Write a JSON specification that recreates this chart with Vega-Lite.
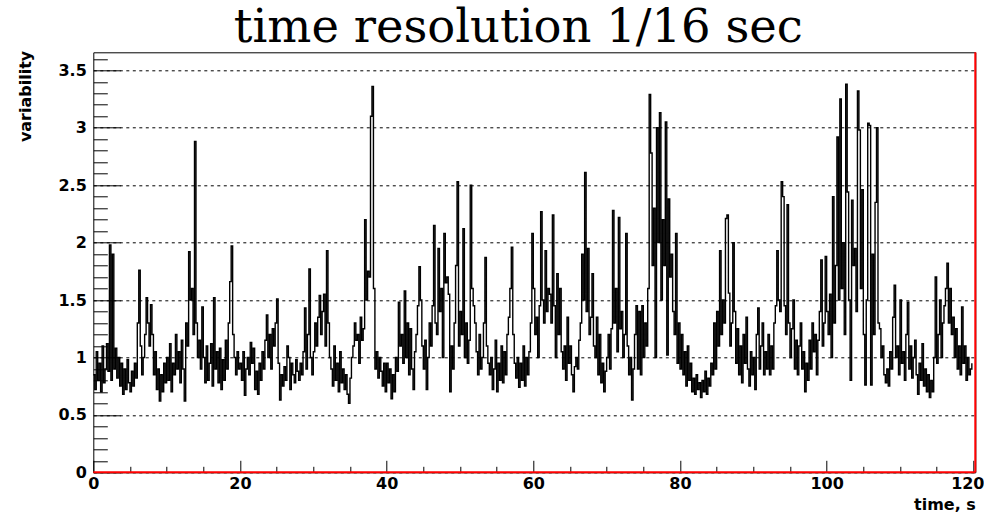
{
"$schema": "https://vega.github.io/schema/vega-lite/v6.json",
"width": 882, "height": 420,
"autosize": {"type": "none"},
"padding": {"left": 93.3, "top": 52.3, "right": 8.7, "bottom": 42.5},
"background": "white",
"title": {"text": "time resolution 1/16 sec", "font": "DejaVu Serif", "fontSize": 46.5, "fontWeight": "normal", "color": "black", "anchor": "middle", "dx": -16, "dy": 47, "offset": 9, "baseline": "alphabetic"},
"config": {"view": {"stroke": "black", "strokeWidth": 1},
  "axis": {"labelFont": "DejaVu Sans", "labelFontWeight": "bold", "labelFontSize": 16, "labelColor": "black", "titleFont": "DejaVu Sans", "titleFontWeight": "bold", "titleFontSize": 16, "titleColor": "black", "tickColor": "black", "domainColor": "black", "tickWidth": 1}},
"resolve": {"axis": {"x": "independent", "y": "independent"}},
"layer": [
{"data": {"values": [
{"t":0,"v":0.85},{"t":0.2,"v":0.72},{"t":0.4,"v":1.05},{"t":0.6,"v":0.8},{"t":0.8,"v":0.95},{"t":1,"v":0.7},{"t":1.2,"v":1.1},{"t":1.4,"v":0.78},{"t":1.6,"v":0.9},{"t":1.8,"v":1.12},
{"t":2,"v":0.88},{"t":2.2,"v":1.98},{"t":2.4,"v":0.8},{"t":2.6,"v":1.9},{"t":2.8,"v":0.9},{"t":3,"v":1.08},{"t":3.2,"v":0.82},{"t":3.4,"v":1.0},{"t":3.6,"v":0.75},{"t":3.8,"v":0.95},
{"t":4,"v":0.68},{"t":4.2,"v":0.9},{"t":4.4,"v":0.72},{"t":4.6,"v":0.98},{"t":4.8,"v":0.78},{"t":5,"v":0.7},{"t":5.2,"v":0.88},{"t":5.4,"v":0.75},{"t":5.6,"v":0.95},{"t":5.8,"v":0.82},
{"t":6,"v":1.3},{"t":6.2,"v":1.76},{"t":6.4,"v":1.1},{"t":6.6,"v":0.85},{"t":6.8,"v":1.0},{"t":7,"v":1.2},{"t":7.2,"v":1.52},{"t":7.4,"v":1.3},{"t":7.6,"v":1.1},{"t":7.8,"v":1.46},
{"t":8,"v":1.2},{"t":8.2,"v":0.85},{"t":8.4,"v":1.05},{"t":8.6,"v":0.72},{"t":8.8,"v":0.9},{"t":9,"v":0.62},{"t":9.2,"v":0.85},{"t":9.4,"v":0.7},{"t":9.6,"v":0.95},{"t":9.8,"v":0.78},
{"t":10,"v":1.0},{"t":10.2,"v":0.8},{"t":10.4,"v":1.12},{"t":10.6,"v":0.7},{"t":10.8,"v":0.95},{"t":11,"v":0.85},{"t":11.2,"v":1.2},{"t":11.4,"v":0.9},{"t":11.6,"v":1.05},{"t":11.8,"v":0.78},
{"t":12,"v":1.15},{"t":12.2,"v":0.9},{"t":12.4,"v":0.62},{"t":12.6,"v":1.3},{"t":12.8,"v":1.1},{"t":13,"v":1.92},{"t":13.2,"v":1.5},{"t":13.4,"v":1.6},{"t":13.6,"v":1.2},{"t":13.8,"v":2.88},
{"t":14,"v":1.3},{"t":14.2,"v":1.0},{"t":14.4,"v":1.15},{"t":14.6,"v":0.9},{"t":14.8,"v":1.44},{"t":15,"v":1.0},{"t":15.2,"v":0.78},{"t":15.4,"v":1.1},{"t":15.6,"v":0.8},{"t":15.8,"v":0.95},
{"t":16,"v":1.12},{"t":16.2,"v":0.75},{"t":16.4,"v":1.52},{"t":16.6,"v":0.9},{"t":16.8,"v":1.05},{"t":17,"v":0.78},{"t":17.2,"v":1.08},{"t":17.4,"v":0.72},{"t":17.6,"v":0.98},{"t":17.8,"v":0.8},
{"t":18,"v":1.15},{"t":18.2,"v":0.9},{"t":18.4,"v":1.3},{"t":18.6,"v":1.66},{"t":18.8,"v":1.97},{"t":19,"v":1.2},{"t":19.2,"v":1.0},{"t":19.4,"v":0.85},{"t":19.6,"v":1.05},{"t":19.8,"v":0.9},
{"t":20,"v":0.95},{"t":20.2,"v":0.8},{"t":20.4,"v":1.05},{"t":20.6,"v":0.67},{"t":20.8,"v":0.9},{"t":21,"v":1.0},{"t":21.2,"v":0.85},{"t":21.4,"v":1.13},{"t":21.6,"v":0.95},{"t":21.8,"v":1.08},
{"t":22,"v":0.72},{"t":22.2,"v":0.88},{"t":22.4,"v":0.68},{"t":22.6,"v":0.95},{"t":22.8,"v":0.8},{"t":23,"v":1.05},{"t":23.2,"v":0.9},{"t":23.4,"v":1.15},{"t":23.6,"v":1.37},{"t":23.8,"v":1.0},
{"t":24,"v":1.2},{"t":24.2,"v":0.9},{"t":24.4,"v":1.25},{"t":24.6,"v":1.1},{"t":24.8,"v":1.3},{"t":25,"v":1.51},{"t":25.2,"v":0.95},{"t":25.4,"v":0.63},{"t":25.6,"v":0.85},{"t":25.8,"v":0.75},
{"t":26,"v":0.92},{"t":26.2,"v":0.8},{"t":26.4,"v":1.1},{"t":26.6,"v":1.0},{"t":26.8,"v":0.72},{"t":27,"v":0.95},{"t":27.2,"v":0.85},{"t":27.4,"v":0.78},{"t":27.6,"v":0.98},{"t":27.8,"v":0.88},
{"t":28,"v":0.8},{"t":28.2,"v":0.95},{"t":28.4,"v":0.85},{"t":28.6,"v":1.05},{"t":28.8,"v":1.43},{"t":29,"v":0.9},{"t":29.2,"v":1.2},{"t":29.4,"v":1.77},{"t":29.6,"v":1.0},{"t":29.8,"v":0.85},
{"t":30,"v":1.05},{"t":30.2,"v":1.3},{"t":30.4,"v":1.1},{"t":30.6,"v":1.35},{"t":30.8,"v":1.54},{"t":31,"v":1.2},{"t":31.2,"v":1.4},{"t":31.4,"v":1.55},{"t":31.6,"v":1.1},{"t":31.8,"v":1.93},
{"t":32,"v":1.3},{"t":32.2,"v":1.0},{"t":32.4,"v":0.9},{"t":32.6,"v":0.75},{"t":32.8,"v":1.1},{"t":33,"v":0.8},{"t":33.2,"v":0.95},{"t":33.4,"v":0.7},{"t":33.6,"v":1.05},{"t":33.8,"v":0.78},
{"t":34,"v":0.9},{"t":34.2,"v":0.72},{"t":34.4,"v":0.85},{"t":34.6,"v":0.68},{"t":34.8,"v":0.6},{"t":35,"v":0.82},{"t":35.2,"v":1.0},{"t":35.4,"v":1.1},{"t":35.6,"v":1.3},{"t":35.8,"v":1.15},
{"t":36,"v":1.2},{"t":36.2,"v":0.95},{"t":36.4,"v":1.35},{"t":36.6,"v":1.15},{"t":36.8,"v":1.25},{"t":37,"v":2.2},{"t":37.2,"v":1.5},{"t":37.4,"v":1.75},{"t":37.6,"v":1.7},{"t":37.8,"v":3.1},
{"t":38,"v":3.36},{"t":38.2,"v":1.6},{"t":38.4,"v":0.9},{"t":38.6,"v":1.05},{"t":38.8,"v":0.82},{"t":39,"v":1.0},{"t":39.2,"v":0.88},{"t":39.4,"v":0.75},{"t":39.6,"v":0.95},{"t":39.8,"v":0.7},
{"t":40,"v":0.95},{"t":40.2,"v":0.78},{"t":40.4,"v":0.9},{"t":40.6,"v":0.64},{"t":40.8,"v":0.85},{"t":41,"v":0.7},{"t":41.2,"v":1.0},{"t":41.4,"v":0.88},{"t":41.6,"v":1.48},{"t":41.8,"v":1.1},
{"t":42,"v":1.2},{"t":42.2,"v":0.95},{"t":42.4,"v":1.58},{"t":42.6,"v":1.0},{"t":42.8,"v":1.3},{"t":43,"v":0.85},{"t":43.2,"v":1.25},{"t":43.4,"v":0.9},{"t":43.6,"v":0.72},{"t":43.8,"v":1.05},
{"t":44,"v":1.2},{"t":44.2,"v":1.45},{"t":44.4,"v":1.79},{"t":44.6,"v":1.5},{"t":44.8,"v":1.1},{"t":45,"v":0.9},{"t":45.2,"v":1.15},{"t":45.4,"v":0.72},{"t":45.6,"v":1.0},{"t":45.8,"v":1.3},
{"t":46,"v":1.1},{"t":46.2,"v":1.45},{"t":46.4,"v":2.15},{"t":46.6,"v":1.3},{"t":46.8,"v":1.2},{"t":47,"v":1.95},{"t":47.2,"v":1.4},{"t":47.4,"v":1.6},{"t":47.6,"v":1.0},{"t":47.8,"v":2.08},
{"t":48,"v":1.65},{"t":48.2,"v":1.7},{"t":48.4,"v":1.55},{"t":48.6,"v":0.7},{"t":48.8,"v":1.1},{"t":49,"v":0.9},{"t":49.2,"v":1.3},{"t":49.4,"v":1.8},{"t":49.6,"v":2.53},{"t":49.8,"v":1.1},
{"t":50,"v":1.4},{"t":50.2,"v":1.2},{"t":50.4,"v":2.12},{"t":50.6,"v":1.0},{"t":50.8,"v":1.3},{"t":51,"v":0.95},{"t":51.2,"v":1.15},{"t":51.4,"v":2.5},{"t":51.6,"v":1.6},{"t":51.8,"v":1.45},
{"t":52,"v":1.3},{"t":52.2,"v":1.05},{"t":52.4,"v":0.85},{"t":52.6,"v":1.2},{"t":52.8,"v":0.9},{"t":53,"v":1.0},{"t":53.2,"v":1.3},{"t":53.4,"v":1.87},{"t":53.6,"v":1.1},{"t":53.8,"v":0.95},
{"t":54,"v":0.85},{"t":54.2,"v":1.0},{"t":54.4,"v":0.72},{"t":54.6,"v":0.9},{"t":54.8,"v":1.15},{"t":55,"v":0.7},{"t":55.2,"v":0.95},{"t":55.4,"v":0.8},{"t":55.6,"v":1.1},{"t":55.8,"v":0.78},
{"t":56,"v":1.05},{"t":56.2,"v":0.85},{"t":56.4,"v":1.2},{"t":56.6,"v":1.35},{"t":56.8,"v":1.6},{"t":57,"v":1.96},{"t":57.2,"v":1.2},{"t":57.4,"v":0.95},{"t":57.6,"v":0.82},{"t":57.8,"v":1.0},
{"t":58,"v":0.74},{"t":58.2,"v":0.95},{"t":58.4,"v":0.8},{"t":58.6,"v":1.1},{"t":58.8,"v":0.75},{"t":59,"v":1.0},{"t":59.2,"v":0.85},{"t":59.4,"v":1.05},{"t":59.6,"v":1.3},{"t":59.8,"v":2.08},
{"t":60,"v":1.6},{"t":60.2,"v":1.2},{"t":60.4,"v":1.35},{"t":60.6,"v":1.0},{"t":60.8,"v":1.45},{"t":61,"v":2.27},{"t":61.2,"v":1.5},{"t":61.4,"v":1.3},{"t":61.6,"v":1.93},{"t":61.8,"v":1.4},
{"t":62,"v":1.6},{"t":62.2,"v":1.55},{"t":62.4,"v":1.3},{"t":62.6,"v":2.24},{"t":62.8,"v":1.45},{"t":63,"v":1.0},{"t":63.2,"v":1.73},{"t":63.4,"v":1.2},{"t":63.6,"v":1.6},{"t":63.8,"v":1.05},
{"t":64,"v":0.9},{"t":64.2,"v":1.1},{"t":64.4,"v":0.8},{"t":64.6,"v":1.35},{"t":64.8,"v":0.95},{"t":65,"v":1.1},{"t":65.2,"v":0.85},{"t":65.4,"v":0.7},{"t":65.6,"v":0.92},{"t":65.8,"v":1.0},
{"t":66,"v":0.9},{"t":66.2,"v":1.15},{"t":66.4,"v":1.3},{"t":66.6,"v":1.9},{"t":66.8,"v":1.5},{"t":67,"v":2.61},{"t":67.2,"v":1.4},{"t":67.4,"v":1.95},{"t":67.6,"v":1.2},{"t":67.8,"v":1.35},
{"t":68,"v":1.73},{"t":68.2,"v":1.1},{"t":68.4,"v":1.0},{"t":68.6,"v":1.35},{"t":68.8,"v":0.85},{"t":69,"v":1.2},{"t":69.2,"v":0.78},{"t":69.4,"v":0.95},{"t":69.6,"v":0.7},{"t":69.8,"v":0.88},
{"t":70,"v":1.0},{"t":70.2,"v":1.2},{"t":70.4,"v":0.9},{"t":70.6,"v":1.25},{"t":70.8,"v":2.28},{"t":71,"v":1.3},{"t":71.2,"v":1.6},{"t":71.4,"v":1.05},{"t":71.6,"v":2.22},{"t":71.8,"v":1.25},
{"t":72,"v":1.4},{"t":72.2,"v":1.0},{"t":72.4,"v":1.2},{"t":72.6,"v":2.08},{"t":72.8,"v":1.1},{"t":73,"v":0.85},{"t":73.2,"v":1.0},{"t":73.4,"v":0.63},{"t":73.6,"v":0.9},{"t":73.8,"v":1.2},
{"t":74,"v":1.45},{"t":74.2,"v":0.9},{"t":74.4,"v":1.4},{"t":74.6,"v":0.85},{"t":74.8,"v":1.45},{"t":75,"v":1.0},{"t":75.2,"v":1.3},{"t":75.4,"v":1.1},{"t":75.6,"v":1.6},{"t":75.8,"v":3.29},
{"t":76,"v":2.78},{"t":76.2,"v":1.8},{"t":76.4,"v":2.3},{"t":76.6,"v":1.0},{"t":76.8,"v":3.0},{"t":77,"v":2.0},{"t":77.2,"v":3.13},{"t":77.4,"v":1.5},{"t":77.6,"v":2.2},{"t":77.8,"v":1.8},
{"t":78,"v":3.05},{"t":78.2,"v":1.02},{"t":78.4,"v":2.38},{"t":78.6,"v":1.7},{"t":78.8,"v":1.9},{"t":79,"v":1.4},{"t":79.2,"v":1.2},{"t":79.4,"v":2.08},{"t":79.6,"v":0.95},{"t":79.8,"v":1.3},
{"t":80,"v":0.9},{"t":80.2,"v":1.2},{"t":80.4,"v":0.85},{"t":80.6,"v":1.05},{"t":80.8,"v":0.75},{"t":81,"v":1.1},{"t":81.2,"v":0.8},{"t":81.4,"v":0.95},{"t":81.6,"v":0.7},{"t":81.8,"v":0.82},
{"t":82,"v":0.68},{"t":82.2,"v":0.85},{"t":82.4,"v":0.72},{"t":82.6,"v":0.78},{"t":82.8,"v":0.65},{"t":83,"v":0.8},{"t":83.2,"v":0.7},{"t":83.4,"v":0.88},{"t":83.6,"v":0.68},{"t":83.8,"v":0.82},
{"t":84,"v":0.75},{"t":84.2,"v":0.95},{"t":84.4,"v":0.85},{"t":84.6,"v":1.3},{"t":84.8,"v":0.9},{"t":85,"v":1.4},{"t":85.2,"v":1.1},{"t":85.4,"v":1.93},{"t":85.6,"v":1.2},{"t":85.8,"v":1.5},
{"t":86,"v":1.3},{"t":86.2,"v":2.21},{"t":86.4,"v":2.24},{"t":86.6,"v":1.56},{"t":86.8,"v":1.1},{"t":87,"v":1.3},{"t":87.2,"v":2.0},{"t":87.4,"v":1.4},{"t":87.6,"v":0.95},{"t":87.8,"v":1.25},
{"t":88,"v":0.85},{"t":88.2,"v":1.1},{"t":88.4,"v":0.78},{"t":88.6,"v":1.2},{"t":88.8,"v":0.95},{"t":89,"v":1.35},{"t":89.2,"v":0.9},{"t":89.4,"v":0.75},{"t":89.6,"v":1.05},{"t":89.8,"v":0.85},
{"t":90,"v":1.0},{"t":90.2,"v":0.72},{"t":90.4,"v":1.2},{"t":90.6,"v":1.43},{"t":90.8,"v":0.9},{"t":91,"v":1.1},{"t":91.2,"v":1.3},{"t":91.4,"v":0.85},{"t":91.6,"v":1.05},{"t":91.8,"v":0.9},
{"t":92,"v":1.2},{"t":92.2,"v":0.85},{"t":92.4,"v":1.1},{"t":92.6,"v":0.9},{"t":92.8,"v":1.3},{"t":93,"v":1.45},{"t":93.2,"v":1.93},{"t":93.4,"v":1.5},{"t":93.6,"v":1.4},{"t":93.8,"v":2.53},
{"t":94,"v":2.4},{"t":94.2,"v":1.45},{"t":94.4,"v":1.2},{"t":94.6,"v":2.33},{"t":94.8,"v":1.3},{"t":95,"v":1.0},{"t":95.2,"v":1.25},{"t":95.4,"v":1.5},{"t":95.6,"v":0.9},{"t":95.8,"v":1.15},
{"t":96,"v":0.85},{"t":96.2,"v":1.1},{"t":96.4,"v":1.3},{"t":96.6,"v":0.9},{"t":96.8,"v":1.05},{"t":97,"v":0.7},{"t":97.2,"v":0.95},{"t":97.4,"v":0.8},{"t":97.6,"v":1.15},{"t":97.8,"v":0.9},
{"t":98,"v":1.3},{"t":98.2,"v":1.05},{"t":98.4,"v":1.2},{"t":98.6,"v":0.85},{"t":98.8,"v":1.15},{"t":99,"v":1.4},{"t":99.2,"v":1.85},{"t":99.4,"v":1.1},{"t":99.6,"v":1.3},{"t":99.8,"v":1.88},
{"t":100,"v":1.4},{"t":100.2,"v":1.2},{"t":100.4,"v":1.55},{"t":100.6,"v":1.0},{"t":100.8,"v":2.4},{"t":101,"v":1.3},{"t":101.2,"v":1.8},{"t":101.4,"v":2.92},{"t":101.6,"v":1.5},{"t":101.8,"v":3.25},
{"t":102,"v":1.6},{"t":102.2,"v":2.0},{"t":102.4,"v":1.2},{"t":102.6,"v":3.38},{"t":102.8,"v":2.44},{"t":103,"v":1.5},{"t":103.2,"v":0.8},{"t":103.4,"v":2.37},{"t":103.6,"v":1.8},{"t":103.8,"v":1.95},
{"t":104,"v":1.4},{"t":104.2,"v":3.32},{"t":104.4,"v":2.98},{"t":104.6,"v":1.6},{"t":104.8,"v":2.46},{"t":105,"v":1.2},{"t":105.2,"v":0.76},{"t":105.4,"v":1.5},{"t":105.6,"v":3.04},{"t":105.8,"v":3.02},
{"t":106,"v":0.76},{"t":106.2,"v":1.9},{"t":106.4,"v":1.2},{"t":106.6,"v":2.35},{"t":106.8,"v":3.0},{"t":107,"v":1.3},{"t":107.2,"v":1.25},{"t":107.4,"v":1.0},{"t":107.6,"v":1.1},{"t":107.8,"v":0.85},
{"t":108,"v":0.78},{"t":108.2,"v":0.9},{"t":108.4,"v":0.75},{"t":108.6,"v":1.05},{"t":108.8,"v":0.9},{"t":109,"v":1.35},{"t":109.2,"v":1.63},{"t":109.4,"v":1.0},{"t":109.6,"v":1.1},{"t":109.8,"v":0.85},
{"t":110,"v":1.5},{"t":110.2,"v":0.95},{"t":110.4,"v":1.05},{"t":110.6,"v":0.8},{"t":110.8,"v":1.2},{"t":111,"v":1.48},{"t":111.2,"v":0.9},{"t":111.4,"v":1.1},{"t":111.6,"v":0.82},{"t":111.8,"v":1.0},
{"t":112,"v":1.15},{"t":112.2,"v":0.85},{"t":112.4,"v":0.68},{"t":112.6,"v":0.95},{"t":112.8,"v":0.8},{"t":113,"v":1.12},{"t":113.2,"v":0.75},{"t":113.4,"v":0.9},{"t":113.6,"v":0.7},{"t":113.8,"v":0.85},
{"t":114,"v":0.65},{"t":114.2,"v":0.8},{"t":114.4,"v":0.7},{"t":114.6,"v":1.0},{"t":114.8,"v":1.7},{"t":115,"v":0.95},{"t":115.2,"v":1.2},{"t":115.4,"v":1.5},{"t":115.6,"v":1.0},{"t":115.8,"v":1.3},
{"t":116,"v":1.45},{"t":116.2,"v":1.6},{"t":116.4,"v":1.82},{"t":116.6,"v":1.3},{"t":116.8,"v":1.6},{"t":117,"v":1.2},{"t":117.2,"v":1.35},{"t":117.4,"v":1.0},{"t":117.6,"v":1.25},{"t":117.8,"v":0.9},
{"t":118,"v":1.1},{"t":118.2,"v":0.85},{"t":118.4,"v":1.44},{"t":118.6,"v":0.95},{"t":118.8,"v":1.1},{"t":119,"v":0.8},{"t":119.2,"v":1.0},{"t":119.4,"v":0.85},{"t":119.6,"v":0.9},{"t":119.8,"v":0.95}
]},
 "mark": {"type": "line", "interpolate": "step-after", "color": "black", "strokeWidth": 1.4},
 "encoding": {
  "x": {"field": "t", "type": "quantitative", "scale": {"domain": [0, 120.27], "nice": false, "zero": false},
    "axis": {"orient": "bottom", "values": [0,20,40,60,80,100,120], "format": "d", "tickSize": -12, "labelPadding": 15, "grid": false, "domain": false, "labelFlush": false, "labelOverlap": false,
      "labelOffset": {"condition": {"test": "datum.value === 120", "value": -6}, "value": 0},
      "title": "time, s", "titleAnchor": "end", "titleAlign": "right", "titleX": 882, "titleY": 37.5, "titleBaseline": "alphabetic"}},
  "y": {"field": "v", "type": "quantitative", "scale": {"domain": [0, 3.657], "nice": false, "zero": false},
    "axis": {"orient": "left", "values": [0,0.5,1,1.5,2,2.5,3,3.5], "format": ".1~f", "tickSize": -27, "labelPadding": 34, "grid": true, "gridDash": [3,3.5], "gridColor": "black", "gridOpacity": 1, "gridWidth": 1, "domain": false, "labelFlush": false, "labelOverlap": false, "labelBaseline": "middle",
      "title": "variability", "titleAnchor": "end", "titleAlign": "right", "titleAngle": -90, "titleX": -68, "titleY": -2, "titleBaseline": "middle"}}
 }},
{"data": {"values": [{"edge": 120.27}]},
 "mark": {"type": "rule", "color": "red", "strokeWidth": 2},
 "encoding": {
  "x": {"field": "edge", "type": "quantitative", "scale": {"domain": [0, 120.27], "nice": false, "zero": false},
    "axis": {"orient": "bottom", "values": [5,10,15,25,30,35,45,50,55,65,70,75,85,90,95,105,110,115], "tickSize": -6, "labels": false, "grid": false, "domain": false, "title": null}}
 }},
{"data": {"values": [{"base": 0}]},
 "mark": {"type": "rule", "color": "red", "strokeWidth": 2},
 "encoding": {
  "y": {"field": "base", "type": "quantitative", "scale": {"domain": [0, 3.657], "nice": false, "zero": false},
    "axis": {"orient": "left", "values": [0.1,0.2,0.3,0.4,0.6,0.7,0.8,0.9,1.1,1.2,1.3,1.4,1.6,1.7,1.8,1.9,2.1,2.2,2.3,2.4,2.6,2.7,2.8,2.9,3.1,3.2,3.3,3.4,3.6], "tickSize": -14, "labels": false, "grid": false, "domain": false, "title": null}}
 }}
]
}
